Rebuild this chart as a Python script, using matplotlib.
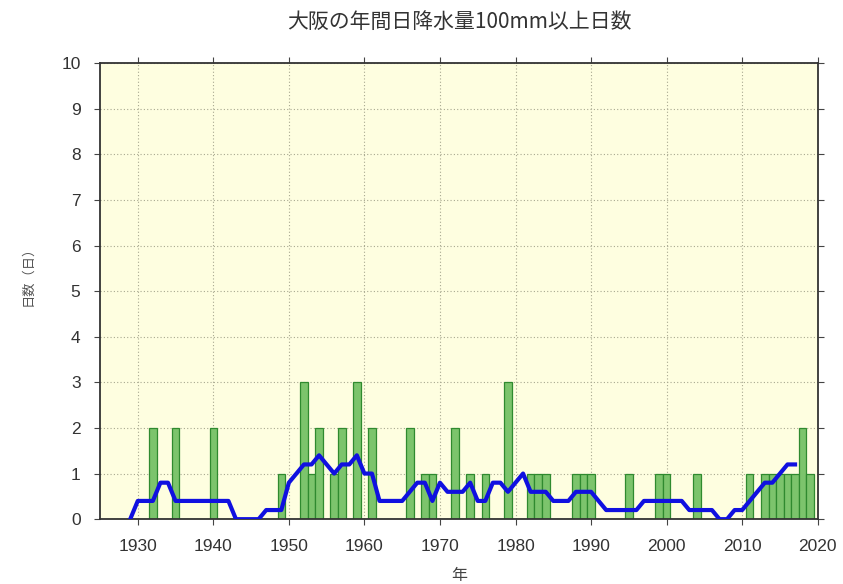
import matplotlib
matplotlib.use("Agg")
import matplotlib.pyplot as plt
import numpy as np

plt.rcParams['font.family'] = ['Liberation Sans', 'Noto Sans CJK JP', 'DejaVu Sans']

years = list(range(1927, 2020))
days = [
    0, 0, 0, 0, 0, 2, 0, 0, 2, 0,      # 1927-1936
    0, 0, 0, 2, 0, 0, 0, 0, 0, 0,      # 1937-1946
    0, 0, 1, 0, 0, 3, 1, 2, 0, 1,      # 1947-1956
    2, 0, 3, 0, 2, 0, 0, 0, 0, 2,      # 1957-1966
    0, 1, 1, 0, 0, 2, 0, 1, 0, 1,      # 1967-1976
    0, 0, 3, 0, 0, 1, 1, 1, 0, 0,      # 1977-1986
    0, 1, 1, 1, 0, 0, 0, 0, 1, 0,      # 1987-1996
    0, 0, 1, 1, 0, 0, 0, 1, 0, 0,      # 1997-2006
    0, 0, 0, 0, 1, 0, 1, 1, 1, 1,      # 2007-2016
    1, 2, 1,                           # 2017-2019
]

ma_years = list(range(1929, 2018))
ma_values = [
    0.0, 0.4, 0.4, 0.4, 0.8, 0.8, 0.4, 0.4, 0.4, 0.4,   # 1929-1938
    0.4, 0.4, 0.4, 0.4, 0.0, 0.0, 0.0, 0.0, 0.2, 0.2,   # 1939-1948
    0.2, 0.8, 1.0, 1.2, 1.2, 1.4, 1.2, 1.0, 1.2, 1.2,   # 1949-1958
    1.4, 1.0, 1.0, 0.4, 0.4, 0.4, 0.4, 0.6, 0.8, 0.8,   # 1959-1968
    0.4, 0.8, 0.6, 0.6, 0.6, 0.8, 0.4, 0.4, 0.8, 0.8,   # 1969-1978
    0.6, 0.8, 1.0, 0.6, 0.6, 0.6, 0.4, 0.4, 0.4, 0.6,   # 1979-1988
    0.6, 0.6, 0.4, 0.2, 0.2, 0.2, 0.2, 0.2, 0.4, 0.4,   # 1989-1998
    0.4, 0.4, 0.4, 0.4, 0.2, 0.2, 0.2, 0.2, 0.0, 0.0,   # 1999-2008
    0.2, 0.2, 0.4, 0.6, 0.8, 0.8, 1.0, 1.2, 1.2,        # 2009-2017
]

xticks = list(range(1930, 2021, 10))
yticks = list(range(0, 11))

fig = plt.figure(figsize=(8.43, 5.84), dpi=100)
ax = fig.add_axes([0.1186, 0.111, 0.8514, 0.781])
ax.set_facecolor('#fefee0')

ax.bar(years, days, width=1.0, color='#7cc46c', edgecolor='#2f8a2f', linewidth=0.9, zorder=2)
ax.plot(ma_years, ma_values, color='#1010e0', linewidth=3.0, zorder=3, solid_joinstyle='round')

ax.set_xlim(1925, 2020)
ax.set_ylim(0, 10)
ax.set_xticks(xticks)
ax.set_yticks(yticks)
ax.grid(True, color='#a8a890', linestyle=(0, (1, 2)), linewidth=0.8, zorder=0)
ax.set_axisbelow(True)

ax.tick_params(axis='both', which='both', direction='out', length=4.5, width=0.8,
               colors='#444444', labelcolor='#333333', labelsize=12.5,
               top=True, right=True, pad=9.5)
for s in ax.spines.values():
    s.set_color('#333333')
    s.set_linewidth(1.3)

fig.text(0.545, 0.962, '大阪の年間日降水量100mm以上日数', fontsize=15,
         color='#333333', ha='center', va='center',
         family=['Noto Sans CJK JP', 'DejaVu Sans'])
ax.set_xlabel('年', fontsize=11.5, color='#444444',
              family=['Noto Sans CJK JP', 'DejaVu Sans'])
ax.xaxis.set_label_coords(0.5, -0.105)
ax.set_ylabel('日数（日）', fontsize=9.5, color='#555555',
              family=['Noto Sans CJK JP', 'DejaVu Sans'])
ax.yaxis.set_label_coords(-0.092, 0.54)

fig.savefig('out.png', dpi=100)
